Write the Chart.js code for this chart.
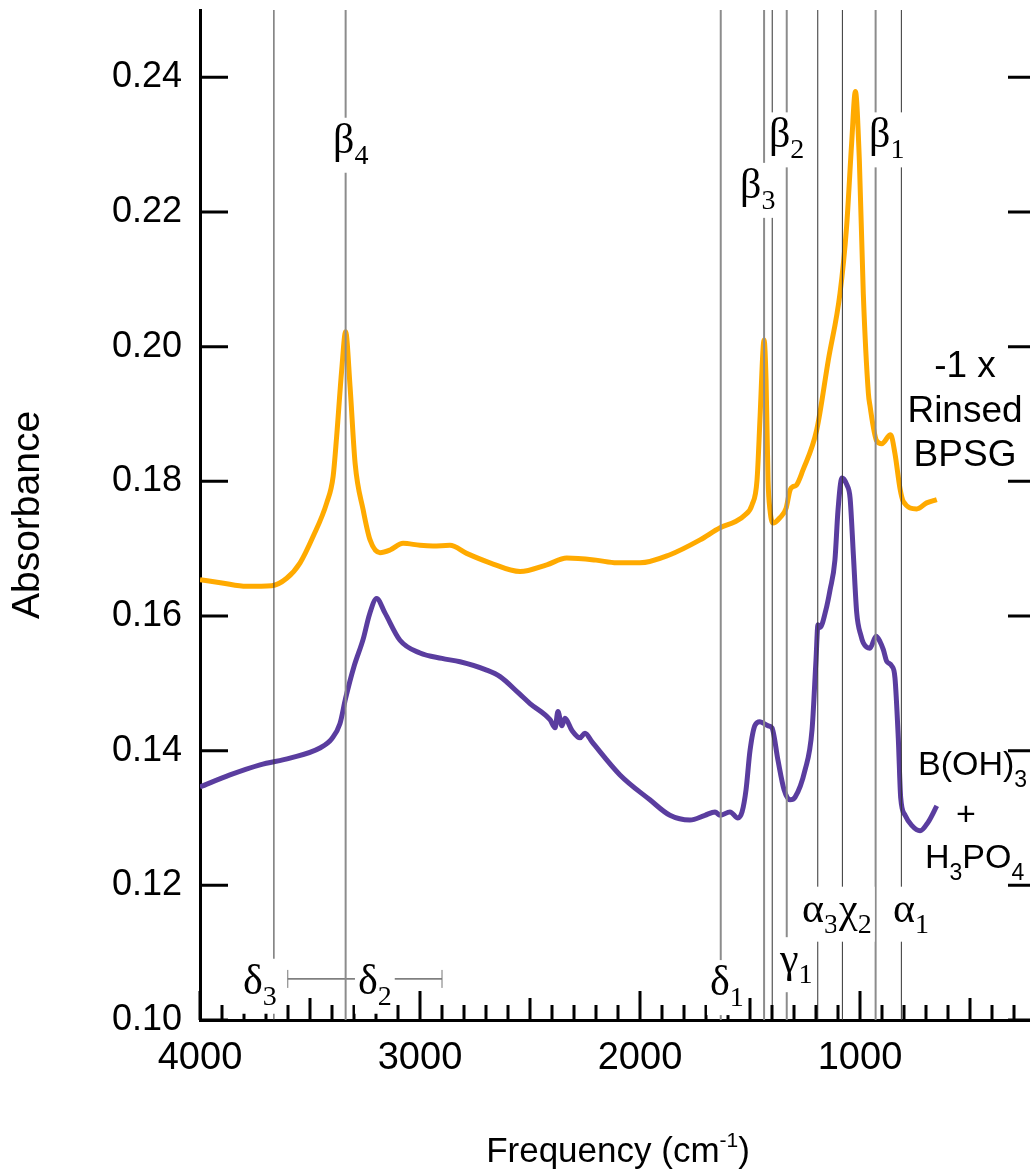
<!DOCTYPE html>
<html>
<head>
<meta charset="utf-8">
<script src="https://cdn.jsdelivr.net/npm/chart.js@4/dist/chart.umd.min.js"></script>
<style>
html, body { margin:0; padding:0; background:#fff; overflow:hidden; }
#wrap { position:relative; width:1040px; height:1170px; }
</style>
</head>
<body>
<div id="wrap"><canvas id="ftir-chart"></canvas></div>
<script>
// tick labels
const xTicks = [4000, 3000, 2000, 1000];
const yTicks = [0.10, 0.12, 0.14, 0.16, 0.18, 0.20, 0.22, 0.24];

// -1 x rinsed BPSG (orange)
const bpsgFreq = [4000, 3900, 3788, 3674, 3606, 3545, 3486, 3424, 3395, 3379, 3356, 3338, 3318, 3295, 3258, 3227,
  3182, 3136, 3077, 3000, 2941, 2864, 2788, 2682, 2545, 2424, 2333, 2200, 2106, 2000, 1864, 1727, 1636, 1568,
  1523, 1491, 1468, 1455, 1441, 1436, 1427, 1418, 1409, 1395, 1364, 1336, 1318, 1305, 1290, 1259, 1197, 1144,
  1091, 1061, 1038, 1021, 1003, 985, 962, 955, 924, 901, 861, 841, 818, 803, 742, 697, 651];
const bpsgAbs = [0.1654, 0.1649, 0.1644, 0.1645, 0.1656, 0.1679, 0.1718, 0.1768, 0.1807, 0.1866, 0.1965, 0.2022, 0.1941, 0.1827, 0.1757, 0.1713,
  0.1694, 0.1698, 0.1708, 0.1705, 0.1704, 0.1705, 0.1693, 0.1679, 0.1666, 0.1676, 0.1686, 0.1683, 0.1679, 0.1679, 0.1691, 0.1713, 0.1731, 0.1740,
  0.1750, 0.1765, 0.1802, 0.1890, 0.1995, 0.2010, 0.1950, 0.1802, 0.1757, 0.1738, 0.1746, 0.1760, 0.1787, 0.1792, 0.1794, 0.1817, 0.1876, 0.1980,
  0.2079, 0.2178, 0.2302, 0.2379, 0.2277, 0.2079, 0.1931, 0.1913, 0.1860, 0.1856, 0.1869, 0.1841, 0.1789, 0.1770, 0.1759, 0.1768, 0.1773];

// B(OH)3 + H3PO4 (purple)
const acidFreq = [4000, 3864, 3727, 3591, 3455, 3400, 3364, 3338, 3300, 3258, 3230, 3197, 3160, 3091, 3000, 2900, 2818,
  2700, 2636, 2550, 2500, 2409, 2386, 2373, 2355, 2341, 2309, 2273, 2250, 2218, 2091, 1955, 1864, 1773, 1705,
  1659, 1636, 1591, 1555, 1536, 1518, 1500, 1477, 1455, 1418, 1400, 1373, 1345, 1318, 1295, 1250, 1218, 1200,
  1191, 1182, 1155, 1136, 1114, 1100, 1082, 1060, 1045, 1030, 1015, 995, 985, 955, 927, 909, 894, 879, 856,
  841, 826, 815, 795, 765, 727, 690, 651];
const acidAbs = [0.1346, 0.1364, 0.1379, 0.1389, 0.1404, 0.1418, 0.1440, 0.1478, 0.1525, 0.1566, 0.1602, 0.1626, 0.1605, 0.1564, 0.1545, 0.1537, 0.1532,
  0.1520, 0.1510, 0.1485, 0.1470, 0.1446, 0.1434, 0.1458, 0.1437, 0.1448, 0.1430, 0.1419, 0.1426, 0.1413, 0.1364, 0.1327, 0.1304, 0.1297, 0.1304,
  0.1309, 0.1304, 0.1309, 0.1300, 0.1309, 0.1342, 0.1400, 0.1438, 0.1443, 0.1437, 0.1434, 0.1386, 0.1342, 0.1327, 0.1331, 0.1371, 0.1431, 0.1535,
  0.1587, 0.1583, 0.1609, 0.1639, 0.1683, 0.1757, 0.1805, 0.1795, 0.1775, 0.1690, 0.1605, 0.1570, 0.1560, 0.1552, 0.1570, 0.1562, 0.1550, 0.1533, 0.1526,
  0.1508, 0.1419, 0.1330, 0.1304, 0.1289, 0.1281, 0.1294, 0.1318];

// band assignment lines (cm-1)
const bandFreq = [3664, 3338, 1633, 1436, 1399, 1333, 1192, 1080, 929, 812];
const bandGray = [false, true, true, true, false, true, false, false, true, false];
// delta2 range bar
const delta2Range = [3601, 2900];

// labels: symbol, subscript, left edge (cm-1), baseline (absorbance)
const bandLabels = [
  {sym: 'β', sub: '4', f: 3395, a: 0.2288},
  {sym: 'β', sub: '3', f: 1545, a: 0.2221},
  {sym: 'β', sub: '2', f: 1414, a: 0.2296},
  {sym: 'β', sub: '1', f: 959,  a: 0.2296},
  {sym: 'α', sub: '3', f: 1264, a: 0.1146},
  {sym: 'χ', sub: '2', f: 1095, a: 0.1146},
  {sym: 'α', sub: '1', f: 850,  a: 0.1146},
  {sym: 'γ', sub: '1', f: 1364, a: 0.1071},
  {sym: 'δ', sub: '1', f: 1682, a: 0.1037},
  {sym: 'δ', sub: '3', f: 3805, a: 0.1039},
  {sym: 'δ', sub: '2', f: 3282, a: 0.1039}
];

const toPoints = (fs, as) => fs.map((f, i) => ({x: f, y: as[i]}));

const datasets = [];
bandFreq.forEach((f, i) => {
  datasets.push({
    data: [{x: f, y: 0.10}, {x: f, y: 0.25}],
    borderColor: bandGray[i] ? '#8c8c8c' : '#333',
    borderWidth: bandGray[i] ? 2 : 1,
    pointRadius: 0,
    order: 1
  });
});
datasets.push({
  data: delta2Range.map(f => ({x: f, y: 0.1061})),
  borderColor: '#222',
  borderWidth: 1,
  pointStyle: 'line',
  rotation: 90,
  pointRadius: 9,
  pointBorderColor: '#777',
  pointBorderWidth: 1,
  order: 1
});
datasets.push({
  label: '-1 x Rinsed BPSG',
  data: toPoints(bpsgFreq, bpsgAbs),
  borderColor: '#ffaa00',
  borderWidth: 5,
  pointRadius: 0,
  cubicInterpolationMode: 'monotone',
  order: 2
});
datasets.push({
  label: 'B(OH)3 + H3PO4',
  data: toPoints(acidFreq, acidAbs),
  borderColor: '#5a3d9f',
  borderWidth: 5,
  pointRadius: 0,
  cubicInterpolationMode: 'monotone',
  order: 2
});

function subText(ctx, x, y, main, sub, mainFont, subFont, drop) {
  ctx.font = mainFont;
  ctx.fillText(main, x, y);
  const w = ctx.measureText(main).width;
  ctx.font = subFont;
  ctx.fillText(sub, x + w, y + drop);
  return w + ctx.measureText(sub).width;
}

const framePlugin = {
  id: 'frame',
  afterDatasetsDraw(chart) {
    const {ctx, chartArea: a, scales: {x, y}} = chart;
    ctx.save();
    ctx.strokeStyle = '#000';
    ctx.lineWidth = 3;
    ctx.beginPath();
    for (let f = 200; f <= 4000; f += 100) {
      const px = x.getPixelForValue(f);
      const len = f % 1000 === 0 ? 29 : (f % 500 === 0 ? 22 : 15);
      ctx.moveTo(px, a.bottom);
      ctx.lineTo(px, a.bottom - len);
    }
    yTicks.forEach(v => {
      const py = y.getPixelForValue(v);
      ctx.moveTo(a.left, py); ctx.lineTo(a.left + 28, py);
      ctx.moveTo(a.right - 28, py); ctx.lineTo(a.right, py);
    });
    ctx.stroke();

    // greek band labels on white boxes
    const gFont = '42px "Liberation Serif", "DejaVu Serif", serif';
    const sFont = '28px "Liberation Serif", "DejaVu Serif", serif';
    ctx.textBaseline = 'alphabetic';
    ctx.textAlign = 'left';
    bandLabels.forEach(l => {
      const lx = x.getPixelForValue(l.f);
      const ly = y.getPixelForValue(l.a);
      ctx.font = gFont;
      const w1 = ctx.measureText(l.sym).width;
      ctx.font = sFont;
      const w2 = ctx.measureText(l.sub).width;
      ctx.fillStyle = '#fff';
      ctx.fillRect(lx - 3, ly - 35, w1 + w2 + 6, 55);
      ctx.fillStyle = '#000';
      subText(ctx, lx, ly, l.sym, l.sub, gFont, sFont, 11);
    });

    // series captions
    ctx.fillStyle = '#000';
    ctx.textAlign = 'center';
    ctx.font = '37px "Liberation Sans", Arial, sans-serif';
    ctx.fillText('-1 x', 965, 377);
    ctx.fillText('Rinsed', 965, 422);
    ctx.fillText('BPSG', 965, 466);
    ctx.font = '34px "Liberation Sans", Arial, sans-serif';
    ctx.fillText('+', 966, 825);
    ctx.textAlign = 'left';
    const cFont = '34px "Liberation Sans", Arial, sans-serif';
    const cSub = '23px "Liberation Sans", Arial, sans-serif';
    subText(ctx, 918, 775, 'B(OH)', '3', cFont, cSub, 12);
    let cx = 925;
    cx += subText(ctx, cx, 868, 'H', '3', cFont, cSub, 12);
    subText(ctx, cx, 868, 'PO', '4', cFont, cSub, 12);

    // x axis title with superscript
    const tFont = '35px "Liberation Sans", Arial, sans-serif';
    const supFont = '21px "Liberation Sans", Arial, sans-serif';
    ctx.font = tFont;
    const p1 = 'Frequency (cm', p3 = ')';
    const w1 = ctx.measureText(p1).width, w3 = ctx.measureText(p3).width;
    ctx.font = supFont;
    const w2 = ctx.measureText('-1').width;
    let tx = (a.left + a.right) / 2 - (w1 + w2 + w3) / 2;
    const ty = 1162;
    ctx.font = tFont; ctx.fillText(p1, tx, ty); tx += w1;
    ctx.font = supFont; ctx.fillText('-1', tx, ty - 15); tx += w2;
    ctx.font = tFont; ctx.fillText(p3, tx, ty);
    ctx.restore();
  }
};

new Chart(document.getElementById('ftir-chart').getContext('2d'), {
  type: 'line',
  data: {datasets: datasets},
  options: {
    responsive: true,
    maintainAspectRatio: false,
    animation: false,
    events: [],
    layout: {autoPadding: false, padding: {top: 10, right: 4, left: 0, bottom: 0}},
    plugins: {legend: {display: false}, tooltip: {enabled: false}},
    scales: {
      x: {
        type: 'linear',
        reverse: true,
        min: 200,
        max: 4000,
        afterBuildTicks: s => { s.ticks = xTicks.map(v => ({value: v})); },
        afterFit: s => { s.height = 150; s.paddingLeft = 0; s.paddingRight = 0; },
        ticks: {
          color: '#000',
          padding: 20,
          maxRotation: 0,
          autoSkip: false,
          callback: v => String(v),
          font: {family: '"Liberation Sans", Arial, sans-serif', size: 38, lineHeight: 1}
        },
        grid: {display: false, drawTicks: false},
        border: {display: true, color: '#000', width: 3}
      },
      y: {
        min: 0.10,
        max: 0.25,
        afterBuildTicks: s => { s.ticks = yTicks.map(v => ({value: v})); },
        afterFit: s => { s.width = 200; s.paddingTop = 0; s.paddingBottom = 0; },
        ticks: {
          color: '#000',
          padding: 18,
          callback: v => v.toFixed(2),
          font: {family: '"Liberation Sans", Arial, sans-serif', size: 36, lineHeight: 1}
        },
        grid: {display: false, drawTicks: false},
        border: {display: true, color: '#000', width: 3},
        title: {
          display: true,
          text: 'Absorbance',
          color: '#000',
          padding: {top: 9, bottom: 0},
          font: {family: '"Liberation Sans", Arial, sans-serif', size: 39, lineHeight: 1}
        }
      }
    }
  },
  plugins: [framePlugin]
});
</script>
</body>
</html>
